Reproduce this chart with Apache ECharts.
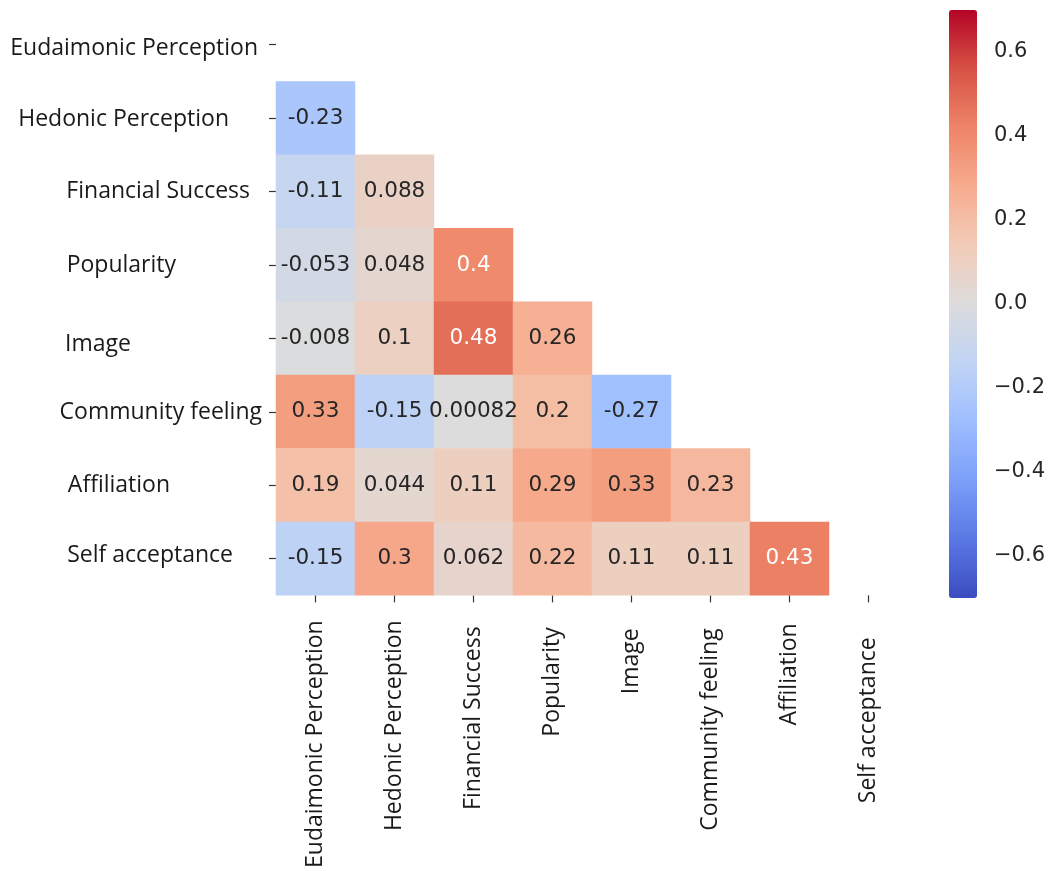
<!DOCTYPE html>
<html>
<head>
<meta charset="utf-8">
<script src="https://cdn.jsdelivr.net/npm/echarts@6/dist/echarts.min.js"></script>
<style>
  html, body { margin: 0; padding: 0; background: #ffffff; }
  #chart { width: 1048px; height: 871px; }
</style>
</head>
<body>
<div id="chart"></div>
<script>
// Variable names, in the order used on both axes
const categories = [
  'Eudaimonic Perception', 'Hedonic Perception', 'Financial Success', 'Popularity',
  'Image', 'Community feeling', 'Affiliation', 'Self acceptance'
];

// Lower-triangle correlation coefficients, one array per row (columns from the left)
const rowEudaimonic = [];
const rowHedonic = [-0.23];
const rowFinancial = [-0.11, 0.088];
const rowPopularity = [-0.053, 0.048, 0.4];
const rowImage = [-0.008, 0.1, 0.48, 0.26];
const rowCommunity = [0.33, -0.15, 0.00082, 0.2, -0.27];
const rowAffiliation = [0.19, 0.044, 0.11, 0.29, 0.33, 0.23];
const rowSelf = [-0.15, 0.3, 0.062, 0.22, 0.11, 0.11, 0.43];

// Colour bar tick values
const colorbarTicks = [-0.6, -0.4, -0.2, 0.0, 0.2, 0.4, 0.6];

const rows = [rowEudaimonic, rowHedonic, rowFinancial, rowPopularity,
              rowImage, rowCommunity, rowAffiliation, rowSelf];

// coolwarm diverging palette
const coolwarm = ['#3b4cc0', '#5a78e4', '#7b9ff9', '#9ebeff', '#c0d4f5', '#dddcdc',
                  '#f2cbb7', '#f7ac8e', '#ee8468', '#d65244', '#b40426'];

const cells = [];
rows.forEach((vals, r) => {
  vals.forEach((v, c) => {
    cells.push({
      value: [c, r, v],
      label: { color: Math.abs(v) >= 0.38 ? '#ffffff' : '#262626' }
    });
  });
});

// per-label nudges for the axis names: [shift away from axis, vertical shift up]
const yShift = [[4, -4], [33, -1], [12, 0], [86, 0], [131, -6], [0, -1], [92, 0], [29, 3]];
const xShift = [0, 0, 6, 7, 8, 8, 3, 17];

const yRich = {}, xRich = {};
categories.forEach((name, i) => {
  const [dx, up] = yShift[i];
  yRich['y' + i] = {
    fontFamily: 'Open Sans', fontSize: 23, color: '#1a1a1a',
    padding: up >= 0 ? [0, dx, up * 2, 0] : [-up * 2, dx, 0, 0]
  };
  xRich['x' + i] = {
    fontFamily: 'Open Sans', fontSize: 23, color: '#1a1a1a',
    padding: [0, xShift[i], 0, 0]
  };
});

const chart = echarts.init(document.getElementById('chart'), null, { renderer: 'canvas' });

chart.setOption({
  backgroundColor: '#ffffff',
  animation: false,
  grid: [
    { left: 276, top: 8, width: 632, height: 590 },
    { left: 949, top: 10, width: 28, height: 588 }
  ],
  xAxis: [
    {
      type: 'category', gridIndex: 0, data: categories, position: 'bottom',
      axisLine: { show: false },
      axisTick: { show: true, alignWithLabel: true, length: 7, lineStyle: { color: '#333333', width: 1.2 } },
      axisLabel: {
        interval: 0, rotate: 90, margin: 25,
        formatter: (val, i) => '{x' + i + '|' + val + '}',
        rich: xRich
      },
      splitLine: { show: false }
    },
    { type: 'value', gridIndex: 1, show: false }
  ],
  yAxis: [
    {
      type: 'category', gridIndex: 0, data: categories, inverse: true,
      axisLine: { show: false },
      axisTick: { show: true, alignWithLabel: true, length: 7, lineStyle: { color: '#333333', width: 1.2 } },
      axisLabel: {
        interval: 0, margin: 14,
        formatter: (val, i) => '{y' + i + '|' + val + '}',
        rich: yRich
      },
      splitLine: { show: false }
    },
    {
      type: 'value', gridIndex: 1, position: 'right', min: -0.7, max: 0.7,
      axisLine: { show: false },
      splitLine: { show: false },
      axisTick: { show: true, length: 6, customValues: colorbarTicks, lineStyle: { color: '#333333', width: 1.2 } },
      axisLabel: {
        customValues: colorbarTicks, margin: 18,
        fontFamily: 'DejaVu Sans', fontSize: 21, color: '#262626',
        formatter: v => (v < 0 ? '\u2212' : '') + Math.abs(v).toFixed(1)
      }
    }
  ],
  visualMap: {
    type: 'continuous', min: -0.7, max: 0.7, seriesIndex: 0,
    calculable: false, realtime: false, padding: 0,
    left: 949, top: 10, itemWidth: 28, itemHeight: 588,
    inRange: { color: coolwarm },
    text: null, showLabel: false
  },
  series: [{
    type: 'heatmap', xAxisIndex: 0, yAxisIndex: 0,
    data: cells,
    itemStyle: { borderWidth: 0 },
    emphasis: { disabled: true },
    label: {
      show: true, fontFamily: 'DejaVu Sans', fontSize: 21.5,
      formatter: p => String(p.value[2])
    }
  }]
});
</script>
</body>
</html>
